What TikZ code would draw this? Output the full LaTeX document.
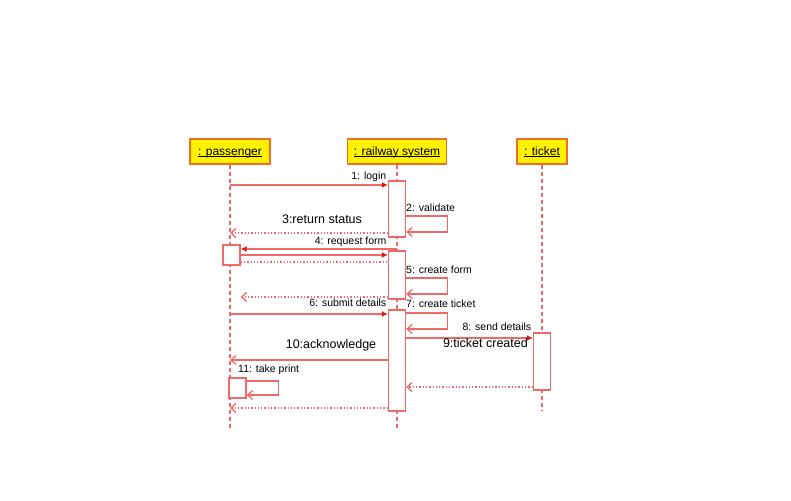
\documentclass[tikz,border=0pt]{standalone}
\usepackage{fontspec}
\setmainfont{Liberation Sans}
\usetikzlibrary{arrows.meta}

\definecolor{linered}{RGB}{240,105,105}
\definecolor{headred}{RGB}{230,20,20}
\definecolor{boxline}{RGB}{240,110,40}

\newcommand{\ul}[1]{\underline{\smash{#1}}}

\tikzset{
	obj/.style={draw=boxline, fill=yellow, line width=1.5pt, minimum height=25, inner sep=0, text height=9pt, text depth=2pt, font=\fontsize{12}{14}\selectfont},
	life/.style={draw=linered, line width=1.3pt, dash pattern=on 4pt off 3pt},
	bar/.style={draw=linered, fill=white, line width=1.3pt, inner sep=0, minimum width=17},
	call/.style={draw=linered, line width=1.3pt, -{Latex[length=6pt,width=6pt,color=headred]}},
	reply/.style={draw=linered, line width=1.3pt, -{Straight Barb[length=5pt,width=9pt]}},
	back/.style={draw=linered, line width=1.3pt, dotted, -{Straight Barb[length=5pt,width=9pt]}},
	lbl/.style={inner sep=1pt, font=\fontsize{10.5}{12}\selectfont},
	big/.style={inner sep=1pt, font=\fontsize{12.5}{14}\selectfont}
}

\begin{document}
\begin{tikzpicture}[x=1pt, y=-1pt]
		\useasboundingbox (0,0) rectangle (791,500);
		
		\node[obj, minimum width=80] (p) at (230,151.5) {\ul{: passenger}};
		\node[obj, minimum width=99] (r) at (397,151.5) {\ul{: railway system}};
		\node[obj, minimum width=50] (t) at (542,151.5) {\ul{: ticket}};
		
		\draw[life] (p.south) -- (p.south |- 0,430);
		\draw[life] (r.south) -- (r.south |- 0,430);
		\draw[life] (t.south) -- (t.south |- 0,410);
		
		\node[bar, minimum height=56] (ra) at (397,209) {};
		\node[bar, minimum height=48] (rb) at (397,275) {};
		\node[bar, minimum height=101] (rc) at (397,360.5) {};
		\node[bar, minimum height=57] (tb) at (542,361.5) {};
		\node[bar, minimum height=20] (pa) at (231.5,255) {};
		\node[bar, minimum height=20] (pb) at (237.5,388) {};
		
		\draw[call] (p.south |- 0,185) -- node[lbl, pos=1, anchor=south east, yshift=2] {1: login} (ra.west |- 0,185);
		
		\draw[reply] (ra.east |- 0,216) -- ++(41,0) -- ++(0,16) -- (ra.east |- 0,232);
		\node[lbl, anchor=west] (m2) at (405,208) {2: validate};
		
		\draw[back] (ra.west |- 0,233) -- (p.south |- 0,233);
		\node[big] (m3) at (322,219) {3:return status};
		
		\draw[call] (r.south |- 0,249) -- node[lbl, pos=0, anchor=south east, xshift=-9, yshift=1] {4: request form} (pa.east |- 0,249);
		\draw[call] (pa.east |- 0,255) -- (rb.west |- 0,255);
		\draw[draw=linered, line width=1.3pt, dotted] (pa.east |- 0,262) -- (rb.west |- 0,262);
		
		\draw[reply] (rb.east |- 0,278) -- ++(41,0) -- ++(0,16) -- (rb.east |- 0,294);
		\node[lbl, anchor=west] (m5) at (405,270) {5: create form};
		\draw[back] (rb.west |- 0,297) -- (pa.east |- 0,297);
		
		\draw[call] (p.south |- 0,314) -- node[lbl, pos=1, anchor=south east, yshift=6] {6: submit details} (rc.west |- 0,314);
		
		\draw[reply] (rc.east |- 0,313) -- ++(41,0) -- ++(0,16) -- (rc.east |- 0,329);
		\node[lbl, anchor=west] (m7) at (405,304) {7: create ticket};
		
		\draw[call] (rc.east |- 0,338) -- node[lbl, pos=1, anchor=south east, yshift=6] {8: send details} (tb.west |- 0,338);
		\node[big, anchor=east] (m9) at (529,343) {9:ticket created};
		\draw[back] (tb.west |- 0,387) -- (rc.east |- 0,387);
		
		\draw[reply] (rc.west |- 0,360) -- (p.south |- 0,360);
		\node[big] (m10) at (331,345) {10:acknowledge};
		
		\draw[reply] (pb.east |- 0,381) -- ++(32,0) -- ++(0,14) -- (pb.east |- 0,395);
		\node[lbl, anchor=west] (m11) at (237,370) {11: take print};
		
		\draw[back] (rc.west |- 0,408) -- (p.south |- 0,408);
	\end{tikzpicture}
\end{document}
